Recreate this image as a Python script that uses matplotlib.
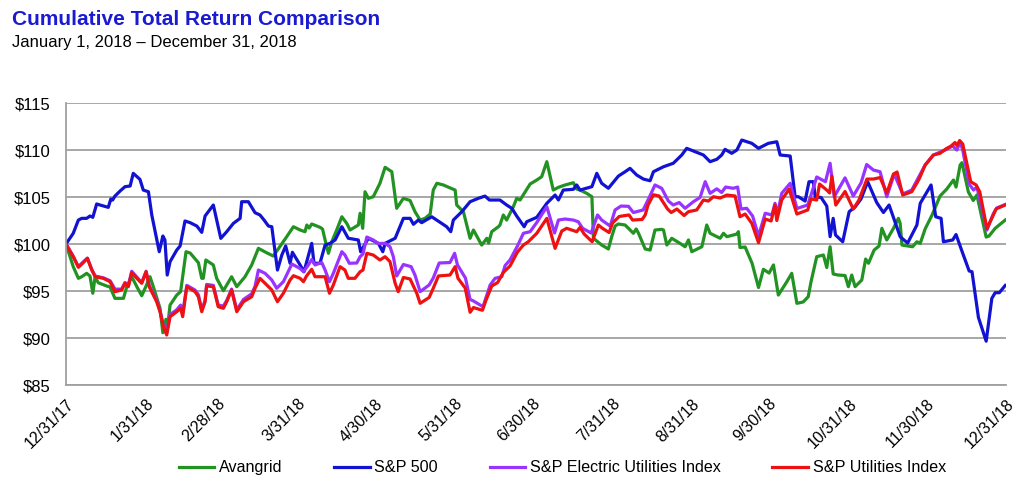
import matplotlib.pyplot as plt

# days since 12/31/17 and index values
avangrid_days = [0, 2.8, 4.8, 6.1, 8.0, 9.3, 10.4, 11.3, 12.5, 15.8, 17.1, 19.0, 22.3, 23.6, 25.5, 27.5, 29.4,
                 31.1, 32.6, 33.9, 36.5, 37.6, 38.8, 39.3, 40.4, 43.0, 44.5, 46.6, 48.2, 51.4, 52.7, 53.3, 54.3,
                 57.2, 58.5, 61.1, 64.3, 66.3, 69.5, 72.1, 74.7, 77.9, 80.5, 85.7, 88.3, 90.9, 92.8, 93.5, 94.4,
                 95.4, 98.6, 99.6, 100.6, 101.9, 103.2, 105.1, 107.1, 109.0, 110.3, 113.5, 114.2, 115.2, 116.1,
                 117.4, 119.3, 121.9, 123.9, 126.5, 128.4, 131.0, 133.6, 135.5, 137.5, 139.4, 141.4, 142.6,
                 144.0, 146.5, 151.1, 151.7, 154.3, 156.9, 158.2, 161.4, 163.4, 164.1, 165.3, 167.9, 168.5,
                 169.8, 171.1, 173.7, 175.0, 176.3, 180.2, 182.8, 184.7, 186.7, 189.2, 191.2, 193.8, 197.0,
                 198.3, 199.6, 202.2, 204.2, 204.8, 208.0, 210.6, 211.9, 213.2, 214.5, 217.1, 218.4, 220.3,
                 221.4, 222.3, 224.9, 226.8, 228.7, 231.3, 232.0, 233.3, 235.2, 238.4, 240.4, 241.7, 243.0,
                 246.9, 248.8, 250.1, 254.0, 255.3, 256.6, 260.5, 261.1, 261.7, 263.7, 266.4, 268.9, 270.8,
                 273.0, 274.7, 276.6, 279.9, 281.8, 283.8, 286.2, 288.2, 289.3, 291.5, 294.1, 295.4, 296.7,
                 297.9, 299.8, 302.5, 303.8, 305.1, 306.4, 309.0, 310.5, 311.6, 313.8, 315.7, 316.8, 318.7,
                 321.3, 323.2, 323.9, 324.6, 328.7, 330.4, 331.7, 333.6, 336.3, 339.4, 342.0, 344.6, 345.6,
                 347.2, 347.9, 350.4, 352.3, 353.7, 357.3, 358.4, 360.8, 364.7]
avangrid_vals = [100, 97.59, 96.35, 96.52, 96.88, 96.6, 94.76, 96.52, 95.88, 95.53, 95.43, 94.22, 94.22, 95.46,
                 96.52, 95.46, 94.5, 95.53, 96.52, 95.46, 93.16, 90.56, 91.99, 90.85, 93.51, 94.57, 94.93,
                 99.18, 99.04, 98.01, 96.35, 96.35, 98.3, 97.77, 96.35, 95.03, 96.52, 95.46, 96.52, 97.77,
                 99.54, 99.07, 98.72, 100.78, 101.84, 101.49, 101.31, 102.02, 101.7, 102.13, 101.78, 101.6,
                 100.43, 99.01, 100.24, 101.49, 102.9, 102.2, 101.49, 102.02, 103.27, 101.67, 105.56, 104.86,
                 105.03, 106.46, 108.16, 107.69, 103.8, 104.86, 104.63, 103.44, 102.55, 102.73, 103.19, 105.74,
                 106.46, 106.28, 105.74, 104.15, 103.44, 100.61, 101.49, 99.89, 100.61, 100.1, 101.31, 101.84,
                 102.02, 103.09, 102.55, 103.97, 104.86, 104.68, 106.38, 106.81, 107.16, 108.76, 105.74,
                 106.03, 106.28, 106.52, 105.85, 105.74, 105.39, 105.03, 100.61, 99.89, 99.47, 100.78, 101.91,
                 102.13, 102.02, 101.67, 101.14, 101.6, 101.14, 99.47, 99.36, 101.49, 101.56, 101.49, 99.89,
                 100.61, 100.07, 99.71, 100.43, 99.18, 99.71, 102.02, 101.14, 100.61, 101.14, 100.78, 101.06,
                 101.31, 99.63, 99.68, 97.95, 95.37, 97.31, 96.91, 97.77, 94.57, 95.99, 96.88, 93.69, 93.83,
                 94.39, 95.99, 98.65, 98.83, 97.5, 99.71, 96.81, 96.7, 96.65, 95.46, 96.7, 95.46, 96.17,
                 98.4, 97.95, 99.36, 99.79, 101.67, 100.43, 101.67, 102.73, 102.2, 99.89, 99.71, 100.24,
                 100.07, 101.6, 103.09, 105.11, 105.85, 106.81, 106.06, 108.4, 108.65, 105.53, 104.63, 105.21,
                 100.74, 100.85, 101.67, 102.55]

sp500_days = [0, 2.8, 4.8, 6.1, 8.0, 9.3, 10.4, 11.9, 13.2, 16.4, 17.4, 18.1, 19.0, 21.0, 22.9, 24.9, 26.1,
              28.7, 30.0, 32.0, 33.3, 36.2, 37.6, 38.4, 39.3, 40.4, 43.0, 44.3, 46.2, 48.2, 50.8, 52.7, 54.0,
              57.2, 60.1, 62.4, 65.0, 67.6, 68.2, 70.8, 73.4, 75.3, 76.9, 78.6, 79.9, 82.1, 83.8, 85.3, 87.0,
              87.9, 90.9, 92.4, 95.4, 96.3, 98.6, 100.6, 102.5, 104.5, 107.1, 109.6, 113.5, 114.4, 117.4,
              121.3, 123.0, 123.9, 127.8, 131.0, 133.6, 134.9, 136.8, 138.1, 142.0, 147.8, 149.4, 150.4,
              153.7, 156.9, 160.1, 162.7, 164.4, 168.5, 171.1, 173.1, 175.0, 177.9, 178.9, 182.8, 186.7,
              189.9, 191.2, 193.1, 197.0, 198.3, 199.6, 204.2, 206.1, 208.0, 210.6, 214.5, 217.1, 219.0,
              221.6, 224.2, 226.8, 228.1, 232.0, 235.8, 239.1, 241.0, 244.9, 247.5, 250.1, 252.7, 254.6,
              255.9, 258.5, 260.5, 262.4, 266.3, 268.9, 272.7, 276.0, 277.3, 281.2, 283.1, 284.4, 287.0,
              288.5, 290.2, 290.9, 293.2, 295.4, 296.7, 297.9, 298.8, 301.6, 304.1, 306.4, 308.7, 311.3,
              314.8, 317.4, 319.6, 323.9, 326.8, 330.4, 331.7, 335.9, 337.7, 339.8, 340.7, 344.3, 345.6,
              348.2, 350.7, 351.8, 354.3, 357.3, 359.5, 360.8, 362.4, 364.7]
sp500_vals = [100, 101.14, 102.55, 102.73, 102.73, 102.98, 102.84, 104.26, 104.15, 103.9, 104.79, 104.68,
              105.1, 105.64, 106.1, 106.17, 107.52, 106.88, 105.74, 105.56, 103.09, 99.18, 100.85, 100.43,
              96.7, 98.12, 99.36, 99.79, 102.45, 102.27, 101.91, 101.24, 102.98, 104.15, 100.6, 101.31,
              102.2, 102.73, 104.5, 104.5, 103.33, 103.09, 102.55, 101.91, 101.84, 97.23, 98.83, 99.79,
              97.95, 99.12, 97.77, 97.05, 100.07, 97.95, 97.95, 99.89, 100.07, 100.43, 101.84, 100.61,
              100.43, 99.18, 100.61, 100.07, 99.18, 100.07, 100.61, 102.73, 102.73, 102.1, 102.55, 102.27,
              102.9, 101.84, 101.31, 102.55, 103.44, 104.5, 104.86, 105.1, 104.68, 104.68, 104.15, 103.8,
              102.98, 101.84, 102.37, 102.84, 104.33, 105.21, 104.68, 105.74, 105.82, 106.28, 105.74, 106.1,
              107.52, 106.46, 105.93, 107.23, 107.69, 108.05, 107.34, 106.91, 106.73, 107.69, 108.22,
              108.59, 109.47, 110.18, 109.76, 109.47, 108.76, 109.01, 109.47, 110.07, 109.65, 110.0, 111.06,
              110.71, 110.18, 110.71, 110.88, 109.47, 109.36, 105.03, 105.03, 104.57, 106.63, 106.63,
              105.03, 104.95, 104.04, 100.78, 102.73, 100.96, 100.24, 103.44, 103.94, 104.79, 106.63,
              104.41, 103.35, 104.15, 100.78, 100.1, 102.02, 104.33, 106.28, 102.9, 102.73, 100.24, 100.43,
              101.01, 99.01, 97.13, 97.05, 92.18, 89.66, 94.22, 94.82, 94.82, 95.59]

elec_days = [0, 2.8, 4.8, 6.7, 8.3, 10.0, 11.3, 14.5, 17.1, 19.0, 21.6, 22.9, 24.2, 25.5, 28.1, 29.4, 31.1,
             32.3, 35.2, 36.5, 37.8, 39.1, 40.4, 43.0, 44.5, 45.3, 46.9, 50.1, 51.4, 52.7, 54.0, 54.6, 57.2,
             59.1, 61.1, 62.4, 64.3, 66.3, 68.9, 72.1, 73.4, 74.7, 77.3, 79.9, 81.8, 84.4, 87.7, 90.9, 92.2,
             94.1, 95.4, 96.7, 99.3, 100.6, 102.3, 103.8, 107.1, 108.3, 110.0, 112.9, 114.2, 115.3, 116.8,
             119.3, 121.2, 123.9, 125.8, 127.1, 128.4, 131.0, 134.0, 135.5, 137.5, 141.0, 142.6, 144.9,
             149.1, 150.9, 152.0, 155.1, 156.9, 158.2, 161.9, 164.7, 166.6, 169.2, 170.5, 172.4, 175.3,
             177.6, 180.2, 182.8, 186.7, 189.7, 191.2, 193.8, 197.0, 198.9, 200.6, 203.9, 206.4, 208.0,
             211.3, 213.2, 215.5, 218.4, 220.3, 224.1, 226.6, 228.7, 231.3, 233.9, 235.8, 238.1, 240.4,
             243.6, 246.2, 248.2, 250.1, 252.7, 254.6, 256.1, 259.1, 260.8, 262.1, 264.3, 266.6, 268.9,
             271.5, 274.1, 275.3, 276.3, 277.9, 281.2, 283.8, 288.0, 289.3, 291.5, 294.9, 296.7, 298.3,
             302.5, 305.7, 308.7, 310.9, 313.5, 316.1, 318.7, 321.6, 324.9, 328.4, 330.7, 333.6, 336.8,
             341.4, 344.3, 345.9, 347.2, 348.2, 350.7, 352.4, 353.7, 357.6, 360.1, 361.4, 364.7]
elec_vals = [100, 98.7, 97.6, 98.1, 98.5, 97.3, 96.6, 96.4, 96.1, 95.2, 95.2, 95.9, 95.6, 97.1, 96.3, 95.9,
             97.1, 95.6, 94.0, 92.9, 91.4, 90.6, 92.5, 93.0, 93.5, 92.6, 95.6, 95.1, 94.6, 93.0, 94.0, 95.7,
             95.6, 93.5, 93.4, 94.0, 95.2, 93.0, 94.1, 94.7, 95.5, 97.23, 96.88, 96.17, 95.29, 95.99, 97.87,
             97.39, 97.05, 97.77, 98.35, 97.77, 98.03, 97.23, 95.99, 96.88, 99.18, 98.83, 97.95, 97.98,
             98.65, 98.94, 100.74, 100.43, 100.05, 100.07, 99.71, 98.65, 96.6, 97.82, 97.59, 96.7, 94.93,
             95.64, 96.38, 97.98, 98.03, 99.01, 97.77, 96.38, 94.1, 93.94, 93.33, 95.64, 96.35, 96.52,
             97.71, 98.3, 99.79, 101.14, 101.31, 102.29, 103.97, 101.17, 102.55, 102.66, 102.55, 102.37,
             101.67, 101.17, 103.09, 102.55, 101.91, 103.62, 104.04, 104.01, 103.35, 103.62, 105.03,
             106.28, 105.93, 104.57, 104.15, 104.41, 103.8, 104.5, 104.95, 106.63, 105.39, 105.87, 105.48,
             106.06, 105.93, 106.06, 103.72, 103.8, 102.98, 100.85, 103.27, 103.09, 104.33, 103.19,
             105.39, 106.46, 103.78, 104.15, 105.21, 107.13, 106.63, 108.59, 105.03, 107.04, 105.11,
             106.49, 108.46, 107.87, 107.69, 105.03, 107.45, 105.32, 105.74, 106.91, 108.4, 109.47, 110.0,
             110.43, 110.0, 110.83, 110.0, 106.38, 105.74, 106.06, 101.49, 103.24, 103.83, 104.2]

util_days = [0, 2.8, 4.8, 6.7, 8.3, 10.0, 11.3, 14.5, 17.1, 19.0, 21.6, 22.9, 24.2, 25.5, 28.1, 29.4, 31.1,
             32.3, 35.2, 36.5, 37.8, 39.1, 40.4, 43.0, 44.5, 45.3, 46.9, 50.1, 51.4, 52.7, 54.0, 54.6, 57.2,
             59.1, 61.1, 62.4, 64.3, 66.3, 68.9, 72.1, 73.4, 75.3, 77.3, 79.9, 82.1, 84.4, 87.0, 88.3, 90.9,
             92.2, 93.4, 95.4, 96.7, 100.6, 102.3, 103.8, 106.4, 108.3, 109.6, 112.2, 114.2, 115.3, 116.8,
             119.3, 121.9, 123.9, 125.8, 127.8, 129.0, 131.0, 133.6, 136.2, 137.5, 141.0, 142.6, 144.6,
             149.1, 151.1, 152.2, 155.0, 156.9, 158.2, 161.7, 163.1, 165.3, 167.6, 169.8, 172.4, 175.3,
             177.6, 179.5, 182.8, 186.7, 189.9, 192.5, 194.4, 198.3, 199.6, 201.2, 204.3, 206.7, 208.3,
             210.9, 212.2, 214.8, 218.6, 220.0, 223.7, 224.9, 226.0, 228.1, 230.3, 233.6, 235.0, 237.2,
             240.0, 241.7, 244.9, 247.5, 249.4, 251.4, 254.0, 256.6, 259.8, 261.7, 263.7, 266.3, 268.9,
             271.5, 273.8, 275.3, 276.0, 277.9, 280.8, 283.8, 288.0, 289.3, 291.5, 292.6, 295.4, 296.5,
             297.4, 298.9, 302.5, 305.7, 307.9, 311.0, 313.5, 316.1, 318.7, 321.3, 322.7, 324.9, 328.4,
             330.4, 331.4, 333.6, 336.8, 339.4, 341.7, 343.7, 345.2, 346.0, 347.0, 348.2, 351.3, 353.4,
             354.8, 357.6, 359.8, 361.2, 364.7]
util_vals = [100, 98.65, 97.52, 98.01, 98.48, 97.23, 96.52, 96.35, 95.99, 94.93, 95.11, 95.82, 95.46, 96.95,
             96.17, 95.82, 97.05, 95.46, 93.86, 92.8, 91.2, 90.32, 92.27, 92.8, 93.16, 92.27, 95.46, 94.93,
             94.39, 92.8, 93.86, 95.53, 95.46, 93.33, 93.16, 93.86, 95.11, 92.8, 93.86, 94.39, 95.29, 96.35,
             95.82, 95.11, 93.86, 94.76, 96.17, 96.63, 96.35, 95.99, 96.6, 97.31, 96.52, 96.52, 94.76,
             95.64, 97.59, 97.23, 96.35, 96.35, 97.05, 97.23, 99.01, 98.83, 98.3, 98.65, 98.12, 95.82,
             94.93, 96.44, 96.28, 94.76, 93.69, 94.31, 95.29, 96.6, 96.7, 97.59, 96.35, 95.32, 92.74,
             93.24, 92.95, 94.04, 95.53, 95.9, 96.97, 97.66, 99.15, 99.89, 100.24, 101.14, 102.73, 99.54,
             101.38, 101.67, 101.31, 101.76, 101.06, 100.24, 102.02, 101.67, 101.22, 102.23, 102.93,
             103.09, 102.55, 102.61, 103.09, 104.15, 105.24, 105.11, 103.72, 103.35, 103.72, 103.03,
             103.44, 103.62, 104.68, 104.57, 105.03, 104.89, 105.21, 105.11, 102.9, 103.19, 102.2, 100.14,
             102.66, 102.45, 104.15, 102.5, 104.68, 105.85, 103.19, 103.62, 104.79, 104.68, 106.38,
             105.74, 105.43, 107.23, 104.15, 105.59, 103.72, 104.68, 106.91, 106.91, 107.07, 105.43,
             107.45, 107.66, 105.21, 105.56, 106.49, 106.99, 108.4, 109.47, 109.65, 110.13, 110.43, 110.8,
             110.48, 111.01, 110.64, 106.63, 106.28, 105.56, 101.65, 102.93, 103.74, 104.15]

tick_days = [0, 31, 59, 90, 120, 151, 181, 212, 243, 273, 304, 334, 365]
tick_labels = ['12/31/17', '1/31/18', '2/28/18', '3/31/18', '4/30/18', '5/31/18', '6/30/18',
               '7/31/18', '8/31/18', '9/30/18', '10/31/18', '11/30/18', '12/31/18']
y_ticks = [85, 90, 95, 100, 105, 110, 115]

plt.rcParams['font.family'] = ['Liberation Sans', 'DejaVu Sans']

fig = plt.figure(figsize=(10.3, 5.04), dpi=100)
ax = fig.add_axes([0.0641, 0.2361, 0.9126, 0.5595])

lw = 2.3
ax.plot(avangrid_days, avangrid_vals, color='#229322', lw=lw, label='Avangrid')
ax.plot(sp500_days, sp500_vals, color='#1212d2', lw=lw, label='S&P 500')
ax.plot(elec_days, elec_vals, color='#9933ff', lw=lw, label='S&P Electric Utilities Index')
ax.plot(util_days, util_vals, color='#ee1111', lw=lw, label='S&P Utilities Index')

ax.set_xlim(0, 365)
ax.set_ylim(85, 115)
ax.set_yticks(y_ticks)
ax.set_yticklabels(['$' + str(v) for v in y_ticks], fontsize=12)
ax.set_xticks(tick_days)
ax.set_xticklabels(tick_labels, fontsize=11.5, rotation=45, ha='right', rotation_mode='anchor')
ax.tick_params(length=0)
ax.tick_params(axis='y', pad=11)
ax.tick_params(axis='x', pad=8)
ax.grid(axis='y', color='#a0a0a0', lw=1.3)
ax.set_axisbelow(True)
for s in ['top', 'right']:
    ax.spines[s].set_visible(False)
for s in ['left', 'bottom']:
    ax.spines[s].set_color('#a0a0a0')
    ax.spines[s].set_linewidth(1.3)

fig.text(0.012, 0.981, 'Cumulative Total Return Comparison', fontsize=15, fontweight='bold',
         color='#1a1ad2', va='top')
fig.text(0.012, 0.931, 'January 1, 2018 \u2013 December 31, 2018', fontsize=12, va='top')

fig.legend(loc='center', bbox_to_anchor=(0.546, 0.072), ncol=4, frameon=False,
           handlelength=2.2, columnspacing=3.2, handletextpad=0.3,
           prop={'family': ['Liberation Sans'], 'size': 11.6})

fig.savefig('out.png', dpi=100)
